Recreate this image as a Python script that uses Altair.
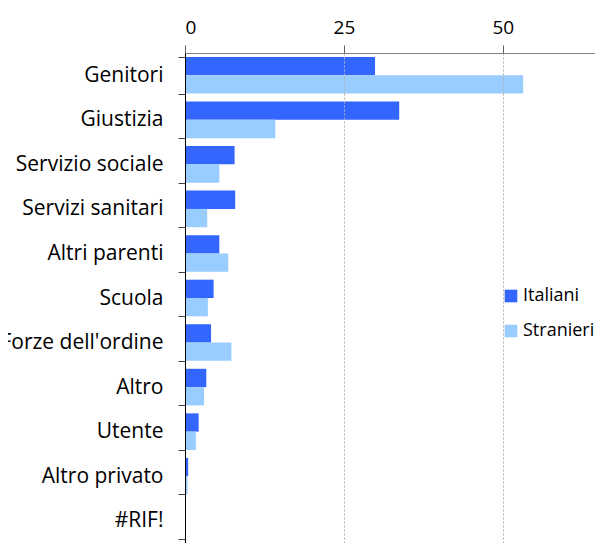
import altair as alt
import pandas as pd

categories = ["Genitori", "Giustizia", "Servizio sociale", "Servizi sanitari",
              "Altri parenti", "Scuola", "Forze dell'ordine", "Altro", "Utente",
              "Altro privato", "#RIF!"]
italiani = [29.9, 33.7, 7.8, 7.9, 5.4, 4.5, 4.1, 3.35, 2.15, 0.5, 0]
stranieri = [53.2, 14.2, 5.4, 3.5, 6.8, 3.6, 7.3, 3.0, 1.7, 0.4, 0]
series = ["Italiani", "Stranieri"]
colors = ["#3366ff", "#99ccff"]
x_ticks = [0, 25, 50]

rows = []
for c, a, b in zip(categories, italiani, stranieri):
    rows.append({"cat": c, "serie": "Italiani", "value": a})
    rows.append({"cat": c, "serie": "Stranieri", "value": b})
df = pd.DataFrame(rows)

FONT = "Open Sans"

chart = alt.Chart(df).mark_bar().encode(
    x=alt.X("value:Q",
            scale=alt.Scale(domain=[0, 64.5], nice=False),
            axis=alt.Axis(orient="top", values=x_ticks, title=None, grid=True,
                          gridDash=[2, 2], gridColor="#b0b0b0", gridWidth=1,
                          domainColor="#808080", tickColor="#606060", tickSize=8,
                          labelFontSize=19, labelFont=FONT, labelColor="#000000",
                          labelPadding=8, zindex=1)),
    y=alt.Y("cat:N", sort=categories,
            scale=alt.Scale(paddingInner=0.178, paddingOuter=0.089),
            axis=alt.Axis(title=None, tickBand="extent", tickSize=7,
                          tickColor="#404040", domainColor="#000000",
                          labelFontSize=21, labelFont=FONT, labelColor="#000000",
                          labelPadding=15, labelLimit=400, zindex=1)),
    yOffset=alt.YOffset("serie:N", sort=series),
    color=alt.Color("serie:N",
                    scale=alt.Scale(domain=series, range=colors),
                    legend=alt.Legend(title=None, orient="none", legendX=309, legendY=226,
                                      fillColor="#ffffff", padding=8,
                                      symbolType="square", symbolSize=160,
                                      symbolStrokeWidth=0, labelFontSize=18,
                                      labelFont=FONT, labelColor="#000000",
                                      rowPadding=17, labelOffset=3, labelLimit=300)),
).properties(
    width=410,
    height=490,
    autosize=alt.AutoSizeParams(type="none"),
    padding={"left": 177, "top": 45, "right": 0, "bottom": 0},
).configure_view(stroke=None)

chart.save("out.html", embed_options={"renderer": "svg", "actions": False})
